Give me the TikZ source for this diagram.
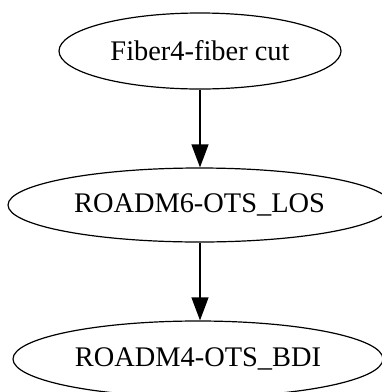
\documentclass[tikz,border=0pt]{standalone}
\usepackage{fontspec}
\setmainfont{Liberation Serif}
\usetikzlibrary{shapes.geometric,arrows.meta}
\begin{document}
\begin{tikzpicture}[x=1pt,y=-1pt,
  ev/.style={draw,ellipse,line width=1.2pt,inner sep=0pt,font=\fontsize{28.4}{34}\selectfont},
  edge/.style={draw,line width=1.2pt,-{Triangle[length=23pt,width=17pt]}}]
\useasboundingbox (0,0) rectangle (382,392);
\clip (0,0) rectangle (382,392);
\node[ev,minimum width=282pt,minimum height=76pt] (a) at (200,51) {Fiber4-fiber cut};
\node[ev,minimum width=383pt,minimum height=74pt] (b) at (199.5,205) {ROADM6-OTS\_LOS};
\node[ev,minimum width=370pt,minimum height=76pt] (c) at (198,359) {ROADM4-OTS\_BDI};
\draw[edge] (a) -- (a|-b.north);
\draw[edge] (a|-b.south) -- (a|-c.north);
\end{tikzpicture}
\end{document}
